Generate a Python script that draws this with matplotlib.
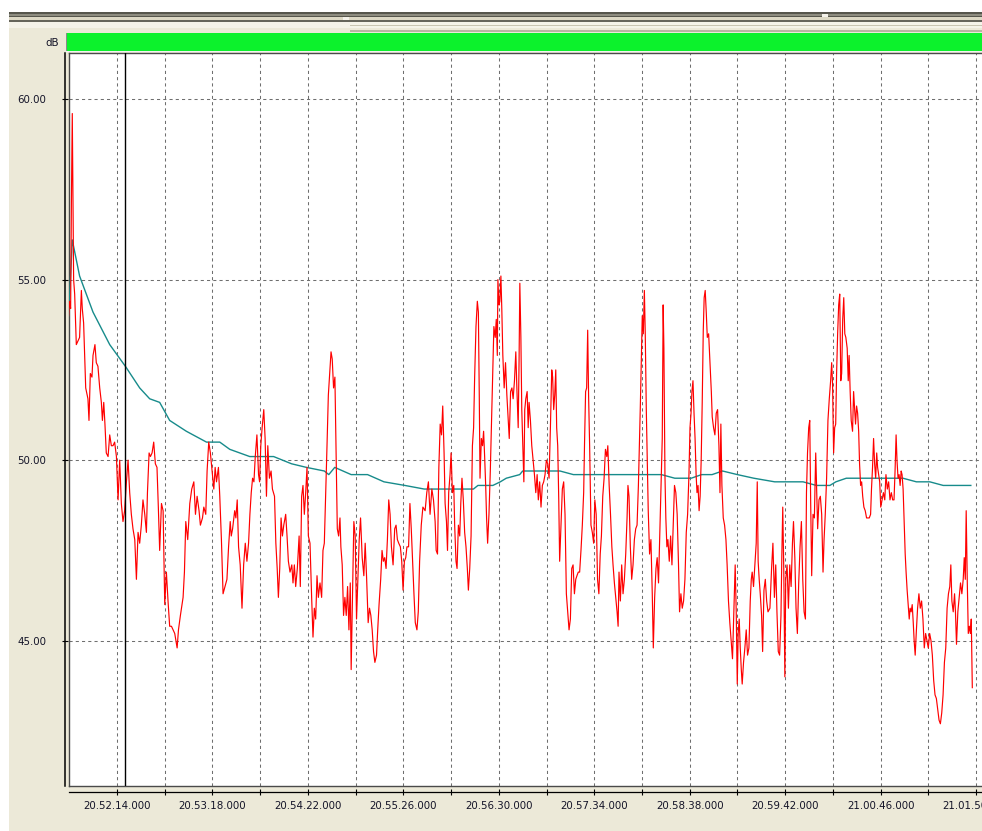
import numpy as np
import matplotlib
matplotlib.use("Agg")
import matplotlib.pyplot as plt
from matplotlib.patches import Rectangle
from matplotlib.ticker import FixedLocator, FuncFormatter

# ─────────────────────────────────────────────
# DATA  (time = seconds after 20.52.14, level in dB)
# ─────────────────────────────────────────────
BASE = 20 * 3600 + 52 * 60 + 14      # 20.52.14
CURSOR_T = 5.5                       # black cursor line

red_a = [(-32.4, 54.0), (-31.8, 54.4), (-31.1, 54.2), (-30.6, 57.1), (-30.0, 59.6), (-29.5, 57.1),
         (-29.1, 55.0), (-28.4, 54.6), (-27.3, 53.2), (-26.2, 53.3), (-25.1, 53.4), (-23.9, 54.7),
         (-23.3, 54.2), (-22.4, 53.8), (-21.0, 52.0), (-19.5, 51.7), (-18.8, 51.1), (-17.9, 52.4),
         (-16.8, 52.3), (-16.1, 52.9), (-14.8, 53.2), (-13.9, 52.7), (-12.8, 52.6), (-11.6, 52.0),
         (-10.5, 51.6), (-9.8, 51.1), (-8.9, 51.6), (-8.1, 51.0), (-7.2, 50.2), (-6.0, 50.1),
         (-4.9, 50.7), (-3.8, 50.4), (-2.7, 50.4), (-1.6, 50.5), (-0.4, 50.1), (0.7, 48.9),
         (1.8, 50.0), (2.9, 48.8), (4.0, 48.3), (5.1, 48.6), (6.3, 49.4), (7.4, 50.0),
         (8.5, 49.1), (9.6, 48.5), (10.7, 48.1), (11.9, 47.8), (13.0, 46.7), (14.1, 48.0),
         (15.2, 47.7), (16.3, 48.2), (17.4, 48.9), (18.6, 48.5), (19.7, 48.0), (20.4, 49.1),
         (21.5, 50.2), (22.4, 50.1), (23.5, 50.2), (24.6, 50.5), (25.7, 49.9), (26.8, 49.8),
         (27.7, 48.7), (28.6, 47.5), (29.8, 48.8), (30.9, 48.6), (32.0, 46.0), (33.1, 46.9),
         (34.2, 46.1), (35.3, 45.4), (36.5, 45.4), (37.6, 45.3), (38.7, 45.2), (40.3, 44.8),
         (41.2, 45.3), (42.5, 45.7), (44.3, 46.2), (45.2, 46.9), (46.1, 48.3), (47.4, 47.8),
         (48.8, 48.8), (50.1, 49.2), (51.5, 49.4), (52.6, 48.5), (53.7, 49.0), (55.0, 48.6),
         (55.9, 48.2), (57.3, 48.4), (58.2, 48.7), (59.5, 48.5), (60.4, 49.7), (61.5, 50.5),
         (62.6, 50.2), (64.0, 49.6), (64.9, 49.2), (65.8, 49.8), (66.7, 49.4), (68.0, 49.8),
         (68.9, 49.0), (70.0, 47.8), (71.1, 46.3)]

red_b = [(73.7, 46.7), (74.8, 47.6), (75.9, 48.3), (76.6, 47.9), (77.5, 48.1), (78.9, 48.6),
         (79.7, 48.4), (80.6, 48.9), (81.5, 47.6), (82.6, 47.1), (83.8, 45.9), (84.9, 47.1),
         (86.0, 47.7), (87.1, 47.2), (88.2, 47.7), (89.1, 48.5), (90.0, 49.1), (90.9, 49.5),
         (91.8, 49.4), (92.7, 50.1), (93.8, 50.7), (94.9, 49.6), (95.6, 49.4), (96.4, 50.4),
         (97.3, 50.9), (98.4, 51.4), (99.3, 50.6), (100.2, 49.0), (101.1, 50.4), (102.2, 49.5),
         (103.3, 49.7), (104.2, 49.2), (105.6, 49.0), (106.5, 47.7), (107.4, 47.0), (108.2, 46.2),
         (109.1, 47.0), (110.0, 48.4), (110.9, 47.9), (111.8, 48.2), (113.1, 48.5), (114.0, 47.9),
         (114.9, 47.2), (116.0, 46.9), (117.2, 47.1), (118.0, 46.6), (118.9, 47.1), (119.8, 46.5),
         (120.9, 47.0), (122.1, 47.9), (122.9, 46.5), (123.8, 49.0), (124.7, 49.3), (125.6, 48.5),
         (126.5, 49.1), (127.4, 49.8), (128.3, 47.9), (129.4, 47.7), (130.5, 46.2), (131.4, 45.1),
         (132.3, 45.9), (133.2, 45.6), (134.1, 46.8), (135.0, 46.2), (136.1, 46.6), (137.2, 46.2),
         (138.1, 47.5), (139.0, 47.7), (139.9, 49.0), (140.8, 50.4), (141.7, 51.8), (142.6, 52.4),
         (143.5, 53.0), (144.3, 52.8), (145.2, 52.0), (146.1, 52.3), (146.8, 50.4), (147.7, 48.1),
         (148.6, 47.9), (149.5, 48.4), (150.1, 47.6), (151.0, 47.1), (151.9, 45.7), (152.8, 46.2),
         (153.7, 45.7), (154.6, 46.5), (155.5, 45.3), (156.4, 46.6), (157.0, 44.2), (157.9, 46.2),
         (158.8, 48.3), (159.7, 47.9), (160.6, 45.6), (161.5, 46.7), (162.4, 47.8), (163.3, 48.4),
         (164.4, 47.3), (165.5, 46.8), (166.4, 47.7), (167.3, 46.8), (168.4, 45.5), (169.3, 45.9),
         (170.2, 45.7), (171.1, 45.3), (172.0, 44.7), (172.9, 44.4), (174.0, 44.6), (174.8, 45.3),
         (175.7, 46.0), (176.8, 46.7), (177.7, 47.5), (178.6, 47.2), (179.5, 47.3), (180.4, 47.0),
         (181.3, 47.8), (182.2, 48.9), (183.1, 48.5), (184.0, 47.6), (185.1, 47.1), (186.2, 48.1),
         (187.1, 48.2), (188.0, 47.8), (188.9, 47.7), (190.0, 47.6), (190.9, 47.2), (191.8, 46.4),
         (192.7, 47.2), (193.6, 47.3), (194.4, 47.6), (195.5, 47.6), (196.4, 48.8), (197.3, 48.1),
         (198.2, 47.2), (199.1, 46.3), (200.0, 45.5), (201.1, 45.3), (202.0, 45.8), (202.9, 47.2),
         (204.0, 48.2), (205.1, 48.7)]

red_c = [(206.6, 48.6), (207.7, 49.1), (208.8, 49.4), (209.9, 48.5), (211.1, 49.2), (212.2, 48.9),
         (213.3, 48.3), (214.0, 47.5), (214.9, 47.4), (215.8, 49.8), (216.7, 51.0), (217.6, 50.7),
         (218.4, 51.5), (219.3, 50.2), (220.0, 48.8), (220.9, 48.3), (221.6, 47.5), (222.4, 49.1),
         (223.3, 49.6), (224.0, 50.2), (224.9, 49.1), (225.8, 49.3), (226.4, 48.2), (227.3, 47.2),
         (228.0, 47.0), (228.9, 48.2), (229.8, 47.9), (230.5, 48.8), (231.3, 49.5), (232.2, 48.9),
         (233.1, 48.0), (234.0, 47.6), (234.9, 47.0), (235.6, 46.4), (236.5, 47.0), (237.4, 47.9),
         (238.3, 50.4), (239.1, 50.9), (239.8, 52.3), (240.7, 53.7), (241.6, 54.4), (242.3, 54.1),
         (242.9, 51.8), (243.4, 49.5), (244.3, 50.6), (245.1, 50.4), (245.8, 50.8), (246.5, 50.1),
         (247.2, 49.3), (247.8, 48.4), (248.5, 47.7), (249.4, 48.5), (250.3, 49.7), (251.2, 51.2),
         (251.8, 52.3), (252.7, 53.7), (253.6, 53.4), (254.3, 53.9), (255.0, 52.9), (255.4, 55.0),
         (256.1, 54.3), (256.7, 54.4), (257.4, 55.1), (258.0, 54.2), (258.7, 52.9), (259.6, 52.0),
         (260.5, 52.7), (261.4, 51.8), (262.3, 51.1), (263.0, 50.6), (263.9, 51.9), (264.8, 52.0),
         (265.6, 51.7), (266.5, 52.2), (267.4, 53.0), (268.1, 52.0), (269.0, 50.9), (269.6, 52.8),
         (270.1, 54.9), (270.8, 53.4), (271.4, 51.4), (272.1, 50.4), (272.8, 49.4), (273.4, 51.4),
         (274.1, 51.7), (275.0, 51.9), (275.7, 50.9), (276.3, 51.6), (277.2, 51.1), (278.1, 50.4),
         (279.0, 50.0), (279.9, 49.6), (280.8, 49.1), (281.7, 49.6), (282.5, 48.9), (283.4, 49.4),
         (284.3, 48.7), (285.2, 49.3), (286.1, 49.4), (287.0, 49.6), (287.9, 50.0), (288.8, 49.9),
         (289.7, 49.5), (290.6, 50.9), (291.5, 52.5), (292.1, 52.3), (292.8, 51.4), (293.5, 51.8),
         (294.2, 52.5), (294.8, 50.9), (295.5, 50.4), (296.2, 48.9), (296.8, 47.2), (297.7, 48.2),
         (298.6, 49.2), (299.5, 49.4), (300.4, 48.5), (301.3, 46.3), (302.2, 45.8), (303.1, 45.3),
         (304.0, 45.6), (304.9, 47.0), (305.8, 47.1), (306.7, 46.3), (307.6, 46.7), (308.4, 46.8),
         (309.3, 46.9), (310.2, 46.9), (311.1, 47.5), (312.0, 48.2), (312.9, 49.1), (313.5, 50.5),
         (314.2, 51.9), (314.9, 52.0), (315.6, 53.6), (316.2, 51.8), (316.9, 50.4), (317.8, 48.2),
         (318.7, 48.0), (319.6, 47.7)]

red_d = [(320.4, 48.9), (321.3, 48.5), (322.2, 46.7), (323.1, 46.3), (324.0, 47.4), (324.8, 47.9),
         (325.7, 49.0), (326.6, 49.5), (327.5, 50.3), (328.4, 50.1), (329.1, 50.4), (330.0, 49.3),
         (330.9, 48.5), (331.8, 47.6), (332.6, 47.1), (333.5, 46.6), (334.4, 46.2), (335.3, 45.8),
         (336.0, 45.4), (336.6, 46.9), (337.5, 46.1), (338.4, 47.1), (339.3, 46.3), (340.2, 46.7),
         (341.1, 47.4), (342.0, 48.4), (342.6, 49.3), (343.3, 49.0), (344.2, 47.6), (345.1, 46.7),
         (346.0, 47.1), (346.9, 47.8), (347.8, 48.1), (348.7, 48.2), (349.6, 49.3), (350.2, 50.3),
         (350.9, 51.5), (351.6, 52.9), (352.2, 54.0), (352.9, 53.5), (353.6, 54.7), (354.2, 53.5),
         (354.9, 51.4), (355.6, 49.9), (356.2, 48.6), (357.1, 47.4), (358.0, 47.8), (358.9, 46.3),
         (359.6, 44.8), (360.5, 46.2), (361.4, 47.0), (362.2, 47.3), (363.1, 46.6), (364.0, 48.0),
         (364.9, 49.5), (365.6, 50.6), (366.2, 54.3), (366.7, 53.1), (367.4, 49.6), (368.0, 48.4),
         (368.7, 47.6), (369.4, 47.8), (370.3, 47.2), (371.2, 47.9), (372.1, 47.1), (373.0, 48.3),
         (373.8, 49.3), (374.7, 49.1), (375.6, 48.5), (376.5, 47.1), (377.2, 45.8), (378.1, 46.3),
         (379.0, 45.9), (379.9, 46.1), (380.8, 46.7), (381.7, 48.0), (382.6, 48.5), (383.5, 49.6),
         (384.2, 50.9), (384.9, 51.3), (385.5, 51.9), (386.2, 52.2), (386.9, 51.3), (387.6, 50.6),
         (388.3, 49.6), (388.9, 49.1), (389.6, 49.3), (390.3, 48.6), (391.0, 49.0), (391.7, 50.0),
         (392.4, 51.6), (393.1, 53.6), (393.7, 54.5), (394.4, 54.7), (395.1, 54.1), (395.8, 53.4),
         (396.7, 53.5), (397.6, 52.7), (398.5, 51.9), (399.1, 51.2), (400.0, 50.9), (400.9, 50.7),
         (401.8, 51.3), (402.7, 51.4), (403.6, 50.4), (404.3, 49.1), (404.9, 51.0), (405.6, 49.3),
         (406.5, 48.4), (407.4, 48.2), (408.3, 47.8), (409.1, 47.1), (410.0, 46.1), (410.9, 45.5),
         (411.8, 45.0), (412.7, 44.5), (413.6, 45.8), (414.5, 47.1), (415.2, 45.8), (415.9, 43.8),
         (416.5, 45.2), (417.2, 45.6), (417.9, 44.8), (418.6, 44.2), (419.2, 43.8), (420.1, 44.4),
         (421.0, 44.8), (421.9, 45.3), (422.8, 44.6), (423.7, 44.8), (424.6, 46.1), (425.3, 46.7),
         (425.9, 46.9), (426.8, 46.5), (427.7, 47.1), (428.6, 47.7), (429.3, 49.4), (429.9, 47.2),
         (430.6, 46.7), (431.3, 46.3), (432.2, 45.7), (432.9, 44.7), (433.8, 46.4), (434.7, 46.7),
         (435.6, 46.1), (436.5, 45.8)]

red_e = [(437.8, 45.9), (438.9, 47.0), (439.8, 47.7), (440.8, 46.2), (441.7, 47.1), (442.5, 45.8),
         (443.4, 44.7), (444.3, 44.6), (445.2, 45.7), (445.8, 47.4), (446.4, 48.7), (447.1, 46.9),
         (447.8, 44.0), (448.4, 46.7), (449.3, 47.1), (450.2, 45.9), (451.1, 47.1), (452.0, 46.5),
         (452.9, 47.7), (453.6, 48.3), (454.5, 47.3), (455.3, 45.9), (456.2, 45.2), (457.1, 46.6),
         (458.0, 47.6), (458.9, 48.3), (459.8, 46.7), (460.7, 45.8), (461.6, 45.6), (462.3, 49.1),
         (463.0, 50.2), (463.8, 50.9), (464.5, 51.1), (465.1, 48.9), (465.8, 46.8), (466.7, 48.5),
         (467.6, 48.4), (468.5, 50.2), (469.2, 49.1), (469.8, 48.1), (470.7, 48.9), (471.6, 49.0),
         (472.5, 48.5), (473.4, 46.9), (474.1, 47.8), (474.9, 48.5), (475.8, 49.5), (476.7, 51.1),
         (477.6, 51.7), (478.5, 52.2), (479.2, 52.7), (479.8, 52.1), (480.5, 50.2), (481.2, 50.9),
         (481.9, 51.0), (482.5, 52.4), (483.2, 53.5), (483.9, 54.3), (484.6, 54.6), (485.3, 52.2),
         (485.9, 52.4), (486.6, 53.9), (487.3, 54.5), (488.0, 53.5), (488.7, 53.4), (489.6, 53.1),
         (490.3, 52.2), (490.9, 52.9), (491.6, 51.9), (492.3, 51.1), (493.2, 50.8), (493.9, 51.9),
         (494.5, 51.5), (495.2, 51.0), (495.9, 51.5), (496.6, 51.3), (497.3, 50.8), (497.9, 49.9),
         (498.6, 49.3), (499.3, 49.4), (500.0, 49.0), (500.8, 48.7), (501.7, 48.6), (502.6, 48.4),
         (503.5, 48.4), (504.4, 48.4), (505.3, 48.5), (505.9, 49.2), (506.6, 49.8), (507.3, 50.6),
         (508.0, 49.9), (508.7, 49.5), (509.4, 50.2), (510.0, 49.8), (510.7, 49.6), (511.4, 49.4),
         (512.1, 48.7), (513.0, 48.9), (513.9, 49.1), (514.8, 48.9), (515.6, 49.6), (516.5, 49.2),
         (517.4, 49.4), (518.3, 48.9), (519.2, 49.1), (520.1, 48.9), (521.0, 48.9), (521.7, 49.7),
         (522.4, 50.7), (523.0, 50.0), (523.7, 49.5), (524.4, 49.6), (525.1, 49.3), (525.8, 49.7),
         (526.4, 49.6), (527.1, 49.2), (527.8, 48.3), (528.5, 47.4), (529.1, 46.9), (529.8, 46.4),
         (530.5, 46.0), (531.2, 45.6), (531.8, 45.9), (532.5, 45.8), (533.2, 46.0), (533.9, 45.5),
         (534.5, 45.0), (535.2, 44.6), (535.9, 45.2), (536.8, 45.9), (537.7, 46.3), (538.6, 45.9),
         (539.5, 46.1), (540.4, 45.6), (541.3, 44.8), (542.2, 45.2), (543.1, 45.0), (544.0, 44.8),
         (544.9, 45.2), (545.8, 45.0), (546.7, 44.6), (547.6, 43.9), (548.5, 43.5), (549.4, 43.4),
         (550.3, 43.1), (551.2, 42.8), (552.1, 42.7), (553.0, 43.0), (553.9, 43.5), (554.8, 44.4),
         (555.7, 44.8), (556.6, 45.9), (557.5, 46.3), (558.4, 46.5), (559.1, 47.1), (559.8, 46.1),
         (560.7, 45.8), (561.6, 46.3), (562.2, 45.8), (562.9, 44.9), (563.8, 45.8), (564.7, 46.2),
         (565.6, 46.6), (566.5, 46.3), (567.4, 46.7), (568.1, 47.3), (568.8, 46.7), (569.4, 48.6),
         (570.1, 46.7), (570.8, 45.2), (571.5, 45.4), (572.2, 45.2), (572.8, 45.6), (573.5, 43.7)]

# running average (teal)
avg_pts = [(-32.4, 54.0), (-30.0, 56.1), (-25.1, 55.1), (-16.1, 54.1), (-4.9, 53.2), (5.6, 52.6),
           (15.2, 52.0), (21.9, 51.7), (28.6, 51.6), (35.3, 51.1), (46.5, 50.8), (60.0, 50.5),
           (68.9, 50.5), (75.6, 50.3), (89, 50.1), (105, 50.1), (117, 49.9), (127, 49.8),
           (139, 49.7), (142, 49.6), (146, 49.8), (157, 49.6), (168, 49.6), (179, 49.4),
           (193, 49.3), (206, 49.2), (214, 49.2), (230, 49.2), (239, 49.2), (242, 49.3),
           (252, 49.3), (257, 49.4), (261, 49.5), (270, 49.6), (272, 49.7), (281, 49.7),
           (288, 49.7), (297, 49.7), (306, 49.6), (315, 49.6), (324, 49.6), (334, 49.6),
           (343, 49.6), (354, 49.6), (365, 49.6), (374, 49.5), (385, 49.5), (392, 49.6),
           (399, 49.6), (406, 49.7), (416, 49.6), (427, 49.5), (441, 49.4), (449, 49.4),
           (460, 49.4), (469, 49.3), (478, 49.3), (482, 49.4), (489, 49.5), (496, 49.5),
           (505, 49.5), (516, 49.5), (527, 49.5), (536, 49.4), (545, 49.4), (554, 49.3),
           (562, 49.3), (572.5, 49.3)]

y_ticks = [45, 50, 55, 60]
grid_step = 32          # seconds between grid lines
label_step = 64         # seconds between time labels

# ─────────────────────────────────────────────
# LAYOUT (pixels of the 982 x 831 window)
# ─────────────────────────────────────────────
W, H = 982, 831
PLOT_L, PLOT_T, PLOT_B = 69, 52.5, 785.5
X_MIN, X_MAX = -32.2, 580.0
Y_MIN, Y_MAX = 40.99, 61.29
TXT = "#141428"
FS = 7.4

red = np.array(red_a + red_b + red_c + red_d + red_e)
avg = np.array(avg_pts)

fig = plt.figure(figsize=(W / 100, H / 100), dpi=100)
fig.patch.set_facecolor("white")

# ── window chrome ──
bg = fig.add_axes([0, 0, 1, 1], zorder=-10)
bg.set_xlim(0, W)
bg.set_ylim(H, 0)
bg.axis("off")


def band(x0, y0, x1, y1, color):
    bg.add_patch(Rectangle((x0, y0), x1 - x0, y1 - y0, facecolor=color, lw=0))


band(9, 12, W, H, "#ECE9D8")
band(9, 12, W, 17, "#56564c")
band(9, 13.5, W, 15.5, "#8d8c7f")
band(9, 17, W, 20, "#dcd8c4")
band(9, 20, W, 22, "#66655b")
band(9, 22, W, 28, "#f5f3e9")
band(350, 24.5, W, 26, "#c9c5b2")
band(350, 30, W, 32, "#b9b5a2")
band(343, 16.5, 349, 20, "#f4f2ea")
band(822, 14, 828, 17, "#f4f2ea")
band(66, 33, W, 50.5, "#0cf22c")
band(66, 33, 67.5, 50.5, "#8a8a8a")
band(66, 50.5, W, 51.5, "#f2f2f2")
bg.text(59, 43.5, "dB", ha="right", va="center", fontsize=FS, color=TXT)

# ── main plot ──
ax = fig.add_axes([PLOT_L / W, 1 - PLOT_B / H, 1 - PLOT_L / W, (PLOT_B - PLOT_T) / H])
ax.set_facecolor("white")
ax.set_xlim(BASE + X_MIN, BASE + X_MAX)
ax.set_ylim(Y_MIN, Y_MAX)

grid_x = BASE + np.arange(0, X_MAX, grid_step)
ax.xaxis.set_major_locator(FixedLocator(grid_x))
ax.yaxis.set_major_locator(FixedLocator(y_ticks))
ax.tick_params(length=0, labelbottom=False, labelleft=False)
ax.grid(True, color="#6f6f6f", lw=0.75, linestyle=(0, (3, 3)))
for side in ["left", "top", "bottom"]:
    ax.spines[side].set_color("#4a4a4a")
    ax.spines[side].set_linewidth(1.0)
ax.spines["right"].set_visible(False)

ax.plot(BASE + avg[:, 0], avg[:, 1], color="#178b8b", lw=1.0, zorder=3)
ax.plot(BASE + red[:, 0], red[:, 1], color="#ff0000", lw=0.85, zorder=4)
ax.axvline(BASE + CURSOR_T, color="black", lw=1.0, zorder=5)

# ── left value axis ──
ay = fig.add_axes([64.5 / W, 1 - PLOT_B / H, 0.0001, (PLOT_B - PLOT_T) / H], sharey=ax)
ay.patch.set_visible(False)
for side in ["right", "top", "bottom"]:
    ay.spines[side].set_visible(False)
ay.spines["left"].set_color("black")
ay.spines["left"].set_linewidth(1.1)
ay.tick_params(axis="y", direction="inout", length=4, width=0.8, pad=11,
               labelsize=FS, labelcolor=TXT)
ay.tick_params(axis="x", length=0, labelbottom=False)
ay.yaxis.set_major_formatter(FuncFormatter(lambda v, p: f"{v:.2f}"))

# ── bottom time axis ──
ax_t = fig.add_axes([PLOT_L / W, 1 - 792 / H, 1 - PLOT_L / W, 0.0001], sharex=ax)
ax_t.patch.set_visible(False)
for side in ["left", "right", "top"]:
    ax_t.spines[side].set_visible(False)
ax_t.spines["bottom"].set_color("black")
ax_t.spines["bottom"].set_linewidth(0.9)


def time_label(x, pos):
    s = int(round(x))
    if (s - BASE) % label_step:
        return ""
    return f"{s // 3600}.{s % 3600 // 60:02d}.{s % 60:02d}.000"


ax_t.xaxis.set_major_formatter(FuncFormatter(time_label))
ax_t.tick_params(axis="x", direction="inout", length=4.5, width=0.8, pad=4,
                 labelsize=FS, labelcolor=TXT)
ax_t.tick_params(axis="y", length=0, labelleft=False)

fig.savefig("out.png", dpi=100)
